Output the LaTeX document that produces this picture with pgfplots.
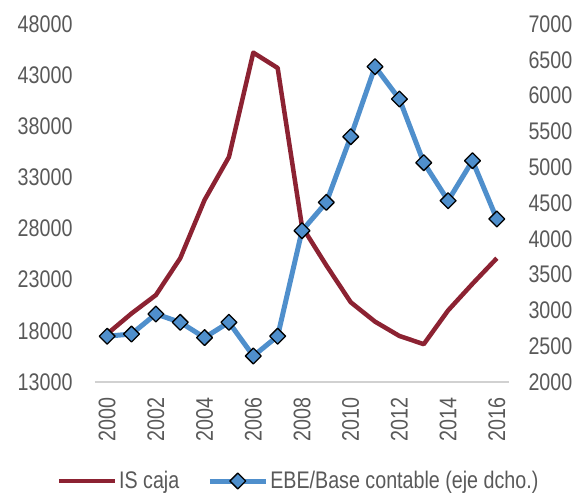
\documentclass[border=0pt]{standalone}
\usepackage{fontspec}
\setmainfont[FakeStretch=0.82]{Liberation Sans}
\usepackage{pgfplots}
\pgfplotsset{compat=1.18}
\definecolor{isred}{HTML}{8C2232}
\definecolor{ebeblue}{HTML}{4F8FCC}
\definecolor{txtgray}{HTML}{595959}
\begin{document}
\begin{tikzpicture}
\useasboundingbox (-95pt,-114pt) rectangle (485pt,382pt);
\pgfplotsset{
  every axis/.append style={
    scale only axis, width=414pt, height=358pt,
    xmin=1999.5, xmax=2016.5,
    major tick length=0pt,
    scaled ticks=false,
    tick label style={font=\fontsize{24}{28}\selectfont, text=txtgray},
    /pgf/number format/assume math mode=true,
    /pgf/number format/1000 sep={},
    clip=false,
  }
}
\begin{axis}[
  axis x line*=bottom, axis y line*=left,
  x axis line style={draw=black!18, line width=1.2pt, -},
  y axis line style={draw=none},
  ymin=13000, ymax=48000,
  ytick={13000,18000,...,48000},
  xtick={2000,2002,...,2016},
  xticklabel style={rotate=90, anchor=east, xshift=0pt},
  yticklabel style={xshift=-19pt},
  xticklabel shift=12pt,
]
\addplot[isred, line width=4.5pt, line join=round] coordinates {
(2000,17700) (2001,19700) (2002,21500) (2003,25100) (2004,30800) (2005,35000)
(2006,45200) (2007,43700) (2008,28200) (2009,24400) (2010,20800) (2011,18900)
(2012,17500) (2013,16700) (2014,20000) (2015,22600) (2016,25100)};
\end{axis}
\begin{axis}[
  axis x line=none, axis y line*=right,
  y axis line style={draw=none},
  ymin=2000, ymax=7000,
  ytick={2000,2500,...,7000},
  yticklabel style={xshift=16pt},
  legend columns=2,
  legend style={draw=none, fill=none, at={(axis description cs:0.5,0)}, anchor=center,
    xshift=-3.5pt, yshift=-99pt,
    font=\fontsize{24}{28}\selectfont, text=txtgray,
    /tikz/every even column/.append style={column sep=26pt}},
  legend image code/.code={\draw[mark repeat=2,mark phase=2] plot coordinates {(0pt,0pt) (28pt,0pt) (56pt,0pt)};},
]
\addlegendimage{isred, line width=4.5pt}
\addlegendentry{IS caja}
\addplot[ebeblue, line width=5pt, line join=round, mark=square*,
  mark size=5.6pt, mark options={rotate=45, fill=ebeblue, draw=black, line width=1.3pt}] coordinates {
(2000,2640) (2001,2670) (2002,2950) (2003,2834) (2004,2620) (2005,2834)
(2006,2363) (2007,2640) (2008,4113) (2009,4509) (2010,5426) (2011,6404)
(2012,5952) (2013,5063) (2014,4532) (2015,5091) (2016,4277)};
\addlegendentry{EBE/Base contable (eje dcho.)}
\end{axis}
\end{tikzpicture}
\end{document}
